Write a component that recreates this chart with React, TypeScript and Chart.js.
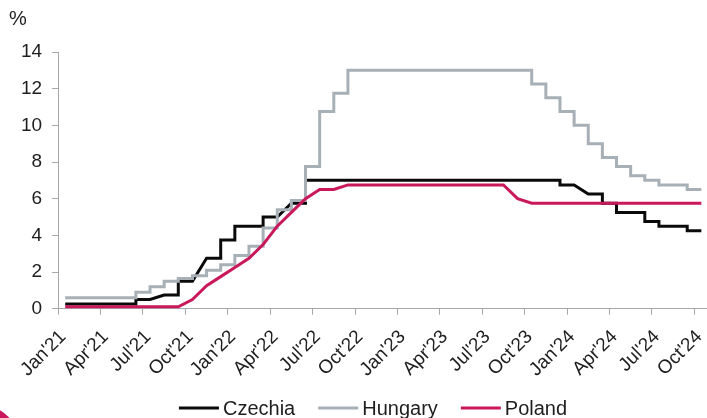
import React, { useEffect, useRef } from "react";
import { Chart, registerables } from "chart.js";

Chart.register(...registerables);

// Monthly observations, Jan'21 .. Oct'24 (policy rates, %)
const monthLabels = [
  "Jan'21", "Feb'21", "Mar'21", "Apr'21", "May'21", "Jun'21", "Jul'21", "Aug'21", "Sep'21", "Oct'21", "Nov'21", "Dec'21",
  "Jan'22", "Feb'22", "Mar'22", "Apr'22", "May'22", "Jun'22", "Jul'22", "Aug'22", "Sep'22", "Oct'22", "Nov'22", "Dec'22",
  "Jan'23", "Feb'23", "Mar'23", "Apr'23", "May'23", "Jun'23", "Jul'23", "Aug'23", "Sep'23", "Oct'23", "Nov'23", "Dec'23",
  "Jan'24", "Feb'24", "Mar'24", "Apr'24", "May'24", "Jun'24", "Jul'24", "Aug'24", "Sep'24", "Oct'24",
];

const tickLabels = [
  "Jan'21", "Apr'21", "Jul'21", "Oct'21", "Jan'22", "Apr'22", "Jul'22", "Oct'22",
  "Jan'23", "Apr'23", "Jul'23", "Oct'23", "Jan'24", "Apr'24", "Jul'24", "Oct'24",
];

const yTicks = [0, 2, 4, 6, 8, 10, 12, 14];

const czechia = [
  0.25, 0.25, 0.25, 0.25, 0.25, 0.5, 0.5, 0.75, 1.5, 1.5, 2.75, 3.75,
  4.5, 4.5, 5.0, 5.0, 5.75, 7.0, 7.0, 7.0, 7.0, 7.0, 7.0, 7.0,
  7.0, 7.0, 7.0, 7.0, 7.0, 7.0, 7.0, 7.0, 7.0, 7.0, 7.0, 6.75,
  6.75, 6.25, 5.75, 5.25, 5.25, 4.75, 4.5, 4.5, 4.25, 4.25,
];
// months in which the Czech move shows as a gradual transition
const czechiaGradualMonths = ["Aug'21", "Nov'21", "May'22", "Feb'24"];

const hungary = [
  0.6, 0.6, 0.6, 0.6, 0.6, 0.9, 1.2, 1.5, 1.65, 1.8, 2.1, 2.4,
  2.9, 3.4, 4.4, 5.4, 5.9, 7.75, 10.75, 11.75, 13.0, 13.0, 13.0, 13.0,
  13.0, 13.0, 13.0, 13.0, 13.0, 13.0, 13.0, 13.0, 13.0, 12.25, 11.5, 10.75,
  10.0, 9.0, 8.25, 7.75, 7.25, 7.0, 6.75, 6.75, 6.5, 6.5,
];

const poland = [
  0.1, 0.1, 0.1, 0.1, 0.1, 0.1, 0.1, 0.1, 0.1, 0.5, 1.25, 1.75,
  2.25, 2.75, 3.5, 4.5, 5.25, 6.0, 6.5, 6.5, 6.75, 6.75, 6.75, 6.75,
  6.75, 6.75, 6.75, 6.75, 6.75, 6.75, 6.75, 6.75, 6.0, 5.75, 5.75, 5.75,
  5.75, 5.75, 5.75, 5.75, 5.75, 5.75, 5.75, 5.75, 5.75, 5.75,
];

const FONT = "'Liberation Sans', Arial, sans-serif";
const AXIS = "#a6a6a6";
const TEXT = "#1e1e1e";

export default function App() {
  const ref = useRef<HTMLCanvasElement>(null);

  useEffect(() => {
    if (!ref.current) return;
    // each month is plotted at the middle of its slot
    const pos = (i: number) => i + 0.5;
    const toPoints = (vals: number[]) => vals.map((y, i) => ({ x: pos(i), y }));

    const czPoints: { x: number; y: number }[] = [];
    czechia.forEach((y, i) => {
      if (i > 0 && y !== czechia[i - 1] && !czechiaGradualMonths.includes(monthLabels[i])) {
        czPoints.push({ x: pos(i), y: czechia[i - 1] });
      }
      czPoints.push({ x: pos(i), y });
    });

    const decorPlugin = {
      id: "decor",
      afterDraw(chart: any) {
        const ctx = chart.ctx;
        ctx.save();
        // unit label
        ctx.font = `20px ${FONT}`;
        ctx.fillStyle = TEXT;
        ctx.textAlign = "left";
        ctx.textBaseline = "alphabetic";
        ctx.fillText("%", 9, 25);

        // legend
        ctx.font = `20px ${FONT}`;
        const items = chart.data.datasets.map((d: any) => ({
          label: d.label,
          color: d.borderColor,
          w: ctx.measureText(d.label).width,
        }));
        const swatch = 40;
        const gapText = 4;
        const gapItem = 23;
        const total =
          items.reduce((s: number, it: any) => s + swatch + gapText + it.w, 0) + gapItem * (items.length - 1);
        let x = 373 - total / 2;
        const yLine = 408;
        for (const it of items) {
          ctx.fillStyle = it.color;
          ctx.fillRect(x, yLine - 1.5, swatch, 3);
          x += swatch + gapText;
          ctx.fillStyle = TEXT;
          ctx.fillText(it.label, x, 415);
          x += it.w + gapItem;
        }
        ctx.restore();
      },
    };

    const chart = new Chart(ref.current, {
      type: "line",
      data: {
        datasets: [
          {
            label: "Czechia",
            data: czPoints,
            borderColor: "#0a0a0a",
            backgroundColor: "#0a0a0a",
            borderWidth: 3,
            pointRadius: 0,
            tension: 0,
            order: 3,
          },
          {
            label: "Hungary",
            data: toPoints(hungary),
            stepped: true,
            borderColor: "#a8b0b7",
            backgroundColor: "#a8b0b7",
            borderWidth: 3,
            pointRadius: 0,
            order: 2,
          },
          {
            label: "Poland",
            data: toPoints(poland),
            borderColor: "#c9195b",
            backgroundColor: "#c9195b",
            borderWidth: 3,
            pointRadius: 0,
            tension: 0,
            order: 1,
          },
        ],
      },
      options: {
        animation: false,
        responsive: true,
        maintainAspectRatio: false,
        layout: { padding: { top: 52, left: 11, right: 0, bottom: 26 } },
        plugins: {
          tooltip: { enabled: false },
          legend: { display: false },
        },
        scales: {
          x: {
            type: "linear",
            min: 0,
            max: 45.9,
            afterBuildTicks: (s: any) => {
              s.ticks = tickLabels.map((_, i) => ({ value: i * 3 }));
            },
            afterFit: (s: any) => {
              s.paddingLeft = 0;
              s.paddingRight = 0;
            },
            ticks: {
              autoSkip: false,
              maxRotation: 45,
              minRotation: 45,
              labelOffset: 5,
              padding: 11,
              color: TEXT,
              font: { size: 19, family: FONT },
              callback: (_v: any, i: number) => tickLabels[i],
            },
            grid: { drawOnChartArea: false, drawTicks: true, tickLength: 6, color: AXIS },
            border: { display: true, color: AXIS, width: 1 },
          },
          y: {
            min: 0,
            max: 14,
            afterBuildTicks: (s: any) => {
              s.ticks = yTicks.map((v) => ({ value: v }));
            },
            ticks: {
              padding: 10,
              color: TEXT,
              font: { size: 19, family: FONT },
            },
            grid: { drawOnChartArea: false, drawTicks: true, tickLength: 6, color: AXIS },
            border: { display: true, color: AXIS, width: 1 },
          },
        },
      },
      plugins: [decorPlugin],
    });
    return () => chart.destroy();
  }, []);

  return (
    <div
      style={{
        position: "fixed",
        left: 0,
        top: 0,
        width: 707,
        height: 418,
        overflow: "hidden",
        background: "#ffffff",
      }}
    >
      <div
        style={{
          position: "absolute",
          left: -60,
          top: 405,
          width: 80,
          height: 80,
          borderRadius: "50%",
          background: "#c8175a",
        }}
      />
      <div style={{ position: "absolute", left: 0, top: 0, width: 707, height: 418 }}>
        <canvas ref={ref} />
      </div>
    </div>
  );
}
